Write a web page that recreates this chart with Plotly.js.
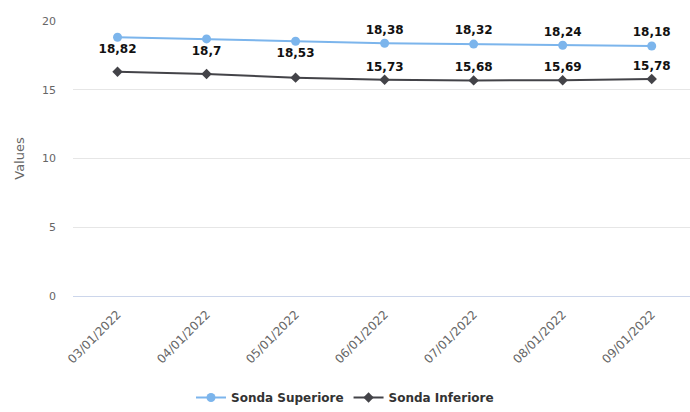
<!DOCTYPE html>
<html>
<head>
<meta charset="utf-8">
<script src="https://cdn.plot.ly/plotly-3.0.1.min.js"></script>
<style>html,body{margin:0;padding:0;background:#fff;}#chart{width:690px;height:412px;}</style>
</head>
<body>
<div id="chart"></div>
<script>
var categories = ["03/01/2022","04/01/2022","05/01/2022","06/01/2022","07/01/2022","08/01/2022","09/01/2022"];
var superiore = [18.82, 18.7, 18.53, 18.38, 18.32, 18.24, 18.18];
var inferiore = [16.31, 16.15, 15.88, 15.73, 15.68, 15.69, 15.78];
var superioreLabels = ["18,82","18,7","18,53","18,38","18,32","18,24","18,18"];
var inferioreLabels = ["","","","15,73","15,68","15,69","15,78"];
var superiorePos = ["bottom center","bottom center","bottom center","top center","top center","top center","top center"];
var yTicks = [0, 5, 10, 15, 20];

var FONT = "DejaVu Sans, Verdana, sans-serif";
var labelFont = {family: FONT, size: 12, color: "#111", weight: "bold"};

var traces = [
  {
    x: categories, y: superiore, name: "Sonda Superiore", type: "scatter", mode: "lines+markers+text",
    line: {color: "#7cb5ec", width: 2},
    marker: {symbol: "circle", size: 9, color: "#7cb5ec"},
    text: superioreLabels, textposition: superiorePos, textfont: labelFont,
    cliponaxis: false
  },
  {
    x: categories, y: inferiore, name: "Sonda Inferiore", type: "scatter", mode: "lines+markers+text",
    line: {color: "#434348", width: 2},
    marker: {symbol: "diamond", size: 8, color: "#434348"},
    text: inferioreLabels, textposition: "top center", textfont: labelFont,
    cliponaxis: false
  }
];

var layout = {
  width: 690, height: 412,
  margin: {l: 73, r: 0, t: 21, b: 116},
  paper_bgcolor: "#fff", plot_bgcolor: "#fff",
  font: {family: FONT, color: "#666"},
  showlegend: true,
  legend: {
    orientation: "h", x: 0.5, xanchor: "center", xref: "container",
    y: -0.038, yanchor: "bottom", yref: "container",
    font: {family: FONT, size: 12, color: "#333", weight: "bold"},
    itemwidth: 30
  },
  xaxis: {
    type: "category", range: [-0.5, 6.43],
    tickangle: -45, tickfont: {family: FONT, size: 12, color: "#666"},
    ticklabelshift: 0, ticklabelstandoff: 8,
    showgrid: false, zeroline: false, showline: false, ticks: "",
    automargin: false,
    fixedrange: true
  },
  yaxis: {
    range: [0, 20], tickvals: yTicks, ticktext: yTicks.map(String),
    tickfont: {family: FONT, size: 11, color: "#666"},
    gridcolor: "#e6e6e6", gridwidth: 1,
    zeroline: true, zerolinecolor: "#ccd6eb", zerolinewidth: 1,
    showline: false,
    ticklabelstandoff: 16,
    title: {text: "Values", font: {family: FONT, size: 13, color: "#666"}, standoff: 14},
    automargin: false,
    fixedrange: true
  }
};

Plotly.newPlot("chart", traces, layout, {displayModeBar: false, staticPlot: true});
</script>
</body>
</html>
